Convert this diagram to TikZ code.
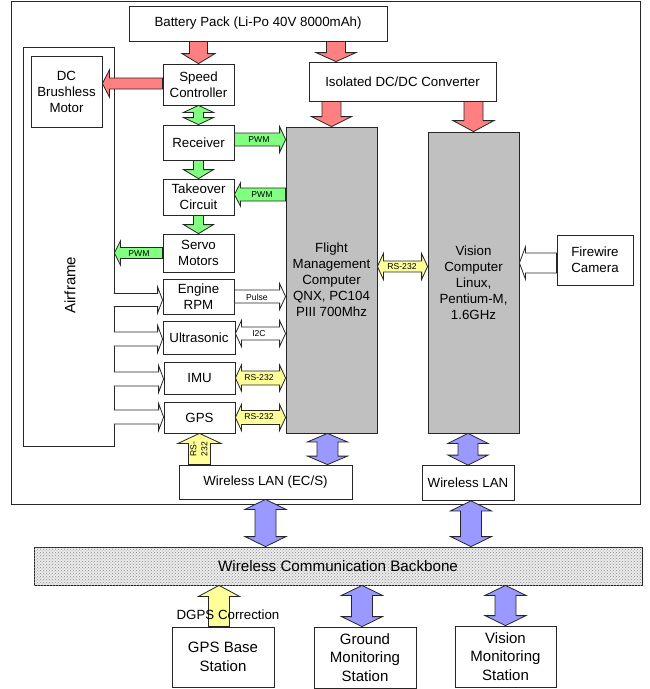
\documentclass[tikz,border=0pt]{standalone}
\usepackage{fontspec}
\setmainfont{Liberation Sans}
\usetikzlibrary{calc,patterns}

\definecolor{powerred}{HTML}{FF8080}
\definecolor{ctlgreen}{HTML}{80FF80}
\definecolor{seryellow}{HTML}{FFFF99}
\definecolor{netblue}{HTML}{9999FF}
\definecolor{cpugray}{HTML}{C0C0C0}

\tikzset{
  box/.style={draw=black!85, fill=white, line width=0.8pt, inner sep=1pt, align=center,
    font=\fontsize{13.3}{16}\selectfont},
  cpu/.style={box, fill=cpugray},
  station/.style={box, font=\fontsize{15}{18.5}\selectfont},
  tag/.style={inner sep=0pt, font=\fontsize{8.6}{9.5}\selectfont},
  pwr/.style={draw=black!85, line width=0.8pt, fill=powerred},
  ctl/.style={pwr, fill=ctlgreen},
  ser/.style={pwr, fill=seryellow},
  net/.style={pwr, fill=netblue},
  raw/.style={pwr, fill=white}
}

% block arrow: [style]{from}{to}{shaft half width}{head half width}{head length}
\newcommand{\fatarrow}[6][]{%
  \path #2 coordinate (fa-s) #3 coordinate (fa-e);
  \path ($(fa-e)!#6pt!(fa-s)$) coordinate (fa-n);
  \filldraw[#1] ($(fa-s)!#4pt!90:(fa-e)$) -- ($(fa-n)!#4pt!-90:(fa-s)$)
    -- ($(fa-n)!#5pt!-90:(fa-s)$) -- (fa-e) -- ($(fa-n)!#5pt!90:(fa-s)$)
    -- ($(fa-n)!#4pt!90:(fa-s)$) -- ($(fa-s)!#4pt!-90:(fa-e)$) -- cycle;}
% same, tail left open
\newcommand{\tailarrow}[6][]{%
  \path #2 coordinate (fa-s) #3 coordinate (fa-e);
  \path ($(fa-e)!#6pt!(fa-s)$) coordinate (fa-n);
  \filldraw[#1] ($(fa-s)!#4pt!90:(fa-e)$) -- ($(fa-n)!#4pt!-90:(fa-s)$)
    -- ($(fa-n)!#5pt!-90:(fa-s)$) -- (fa-e) -- ($(fa-n)!#5pt!90:(fa-s)$)
    -- ($(fa-n)!#4pt!90:(fa-s)$) -- ($(fa-s)!#4pt!-90:(fa-e)$);}
% head at both ends
\newcommand{\dblarrow}[6][]{%
  \path #2 coordinate (fa-s) #3 coordinate (fa-e);
  \path ($(fa-e)!#6pt!(fa-s)$) coordinate (fa-n) ($(fa-s)!#6pt!(fa-e)$) coordinate (fa-m);
  \filldraw[#1] (fa-s) -- ($(fa-m)!#5pt!90:(fa-e)$) -- ($(fa-m)!#4pt!90:(fa-e)$)
    -- ($(fa-n)!#4pt!-90:(fa-s)$) -- ($(fa-n)!#5pt!-90:(fa-s)$) -- (fa-e)
    -- ($(fa-n)!#5pt!90:(fa-s)$) -- ($(fa-n)!#4pt!90:(fa-s)$)
    -- ($(fa-m)!#4pt!-90:(fa-e)$) -- ($(fa-m)!#5pt!-90:(fa-e)$) -- cycle;}

\begin{document}
\begin{tikzpicture}[x=1pt, y=-1pt]
\useasboundingbox (0,0) rectangle (649,689);

% on-board frame
\node[draw=black!85, line width=0.8pt, minimum width=629pt, minimum height=503pt] (uav) at (325.5,252.5) {};

% power
\node[box, minimum width=258pt, minimum height=35pt] (bat) at (258,23.5) {Battery Pack (Li-Po 40V 8000mAh)};
\node[box, minimum width=187pt, minimum height=39pt] (iso) at (402.5,81.5) {Isolated DC/DC Converter};

% airframe side
\node[box, minimum width=91pt, minimum height=399pt] (airframe) at (68.5,246.5) {};
\node[rotate=90, inner sep=0pt, font=\fontsize{15}{18}\selectfont] (aflabel) at (70,285) {Airframe};
\node[box, minimum width=71pt, minimum height=71pt] (motor) at (66.5,91.5) {DC\\Brushless\\Motor};

\node[box, minimum width=71pt, minimum height=41pt] (spd) at (198.5,84.5) {Speed\\Controller};
\node[box, minimum width=71pt, minimum height=35pt] (rcv) at (198.5,142.5) {Receiver};
\node[box, minimum width=71pt, minimum height=36pt] (tko) at (198.5,197) {Takeover\\Circuit};
\node[box, minimum width=71pt, minimum height=38pt] (srv) at (198.5,253) {Servo\\Motors};
\node[box, minimum width=71pt, minimum height=35pt] (eng) at (198.5,296.5) {Engine\\RPM};
\node[box, minimum width=72pt, minimum height=33pt] (ult) at (199,337.5) {Ultrasonic};
\node[box, minimum width=71pt, minimum height=32pt] (imu) at (199.5,378) {IMU};
\node[box, minimum width=71pt, minimum height=31pt] (gps) at (199.5,417.5) {GPS};

% computers
\node[cpu, minimum width=91pt, minimum height=306pt] (fmc) at (331.5,280) {Flight\\Management\\Computer\\QNX, PC104\\PIII 700Mhz};
\node[cpu, minimum width=91pt, minimum height=301pt] (vis) at (473.5,282.5) {Vision\\Computer\\Linux,\\Pentium-M,\\1.6GHz};
\node[box, minimum width=76pt, minimum height=50pt] (cam) at (595,260) {Firewire\\Camera};

\node[box, minimum width=173pt, minimum height=34pt] (wlan1) at (265.5,482) {Wireless LAN (EC/S)};
\node[box, minimum width=92pt, minimum height=35pt] (wlan2) at (468,483) {Wireless LAN};

% ground side
\node[box, fill=black!8, postaction={pattern=crosshatch dots, pattern color=black!45},
  font=\fontsize{15.2}{17}\selectfont, minimum width=608pt, minimum height=38pt] (bb) at (338,566) {Wireless Communication Backbone};
\node[station, minimum width=102pt, minimum height=60pt] (gpsb) at (223,657) {GPS Base\\Station};
\node[station, minimum width=102pt, minimum height=61pt] (gnd) at (365,657.5) {Ground\\Monitoring\\Station};
\node[station, minimum width=101pt, minimum height=61pt] (vmon) at (505.5,656.5) {Vision\\Monitoring\\Station};

\coordinate (isoin) at (336,0);
\coordinate (linkrs) at (402,266.5);
\coordinate (fmcnet) at (327.5,0);
\coordinate (dgpsx) at (219,0);

% power arrows
\fatarrow[pwr]{(bat.south -| spd)}{(spd.north)}{9}{16.5}{10}
\fatarrow[pwr]{(bat.south -| isoin)}{(iso.north -| isoin)}{9.5}{20}{9}
\fatarrow[pwr]{(iso.south -| fmc)}{(fmc.north)}{9.5}{20}{10}
\fatarrow[pwr]{(iso.south -| vis)}{(vis.north)}{9.5}{20.5}{11}
\fatarrow[pwr]{($(spd.west)+(0,-1)$)}{($(spd.west -| motor.east)+(0,-1)$)}{5.5}{13.5}{7}

% control chain
\dblarrow[ctl]{(spd.south)}{(rcv.north)}{5}{15}{7}
\fatarrow[ctl]{(rcv.south)}{(tko.north)}{5}{15}{9}
\fatarrow[ctl]{(tko.south)}{(srv.north)}{5}{15}{9}
\fatarrow[ctl]{($(rcv.east)+(0,-3)$)}{($(rcv.east -| fmc.west)+(0,-3)$)}{6.5}{13}{6}
\fatarrow[ctl]{($(tko.east -| fmc.west)+(0,-2.5)$)}{($(tko.east)+(0,-2.5)$)}{6.5}{11.5}{6}
\fatarrow[ctl]{(srv.west)}{(srv.west -| airframe.east)}{5.5}{12}{6}

% sensors
\tailarrow[raw]{($(airframe.east |- eng)+(-0.6,3.5)$)}{($(eng.west)+(0,3.5)$)}{6.5}{13}{5}
\tailarrow[raw]{($(airframe.east |- ult)+(-0.6,1.5)$)}{($(ult.west)+(0,1.5)$)}{7}{13.5}{5}
\tailarrow[raw]{($(airframe.east |- imu)+(-0.6,1)$)}{($(imu.west)+(0,1)$)}{7}{13.5}{5}
\tailarrow[raw]{($(airframe.east |- gps)+(-0.6,-0.5)$)}{($(gps.west)+(0,-0.5)$)}{7}{13.5}{5}
\fatarrow[raw]{(eng.east)}{(eng.east -| fmc.west)}{6.5}{13}{6}
\dblarrow[raw]{($(ult.east)+(0,-4)$)}{($(ult.east -| fmc.west)+(0,-4)$)}{6.5}{13}{6}
\fatarrow[raw]{($(cam.west)+(0,3)$)}{($(cam.west -| vis.east)+(0,3)$)}{10}{16}{6}

% serial links
\dblarrow[ser]{(imu.east)}{(imu.east -| fmc.west)}{7}{13}{6}
\dblarrow[ser]{(gps.east)}{(gps.east -| fmc.west)}{7}{13}{6}
\dblarrow[ser]{(fmc.east |- linkrs)}{(vis.west |- linkrs)}{5.5}{13}{6}
\fatarrow[ser]{(wlan1.north -| gps)}{(gps.south)}{11}{21.5}{10}
\fatarrow[ser]{(gpsb.north -| dgpsx)}{(bb.south -| dgpsx)}{10.5}{20.5}{11}

% network
\dblarrow[net]{(fmc.south -| fmcnet)}{(wlan1.north -| fmcnet)}{10.5}{20}{8.5}
\dblarrow[net]{(vis.south -| wlan2)}{(wlan2.north)}{10}{20}{10}
\dblarrow[net]{(wlan1.south)}{(bb.north -| wlan1)}{10.5}{20.5}{10}
\dblarrow[net]{($(wlan2.south)+(3,0)$)}{($(bb.north -| wlan2)+(3,0)$)}{10.5}{20.5}{10}
\dblarrow[net]{($(bb.south -| gnd)+(-3,0)$)}{($(gnd.north)+(-3,0)$)}{10.5}{20.5}{10}
\dblarrow[net]{(bb.south -| vmon)}{(vmon.north)}{10.5}{20.5}{10}

% labels
\node[tag] (pwmin) at (259,139.5) {PWM};
\node[tag] (pwmout) at (262,194.5) {PWM};
\node[tag] (pwmsrv) at (139,253.5) {PWM};
\node[tag] (pulse) at (257,297) {Pulse};
\node[tag] (itwoc) at (259,334) {I2C};
\node[tag] (rsimu) at (259,378) {RS-232};
\node[tag] (rsgps) at (259,417) {RS-232};
\node[tag] (rslink) at (linkrs) {RS-232};
\node[tag, rotate=90, align=center, font=\fontsize{8.6}{11}\selectfont] (rswlan) at (199,449) {RS-\\232};
\node[inner sep=0pt, font=\fontsize{13.3}{16}\selectfont] (dgps) at (228,615) {DGPS Correction};

\end{tikzpicture}
\end{document}
